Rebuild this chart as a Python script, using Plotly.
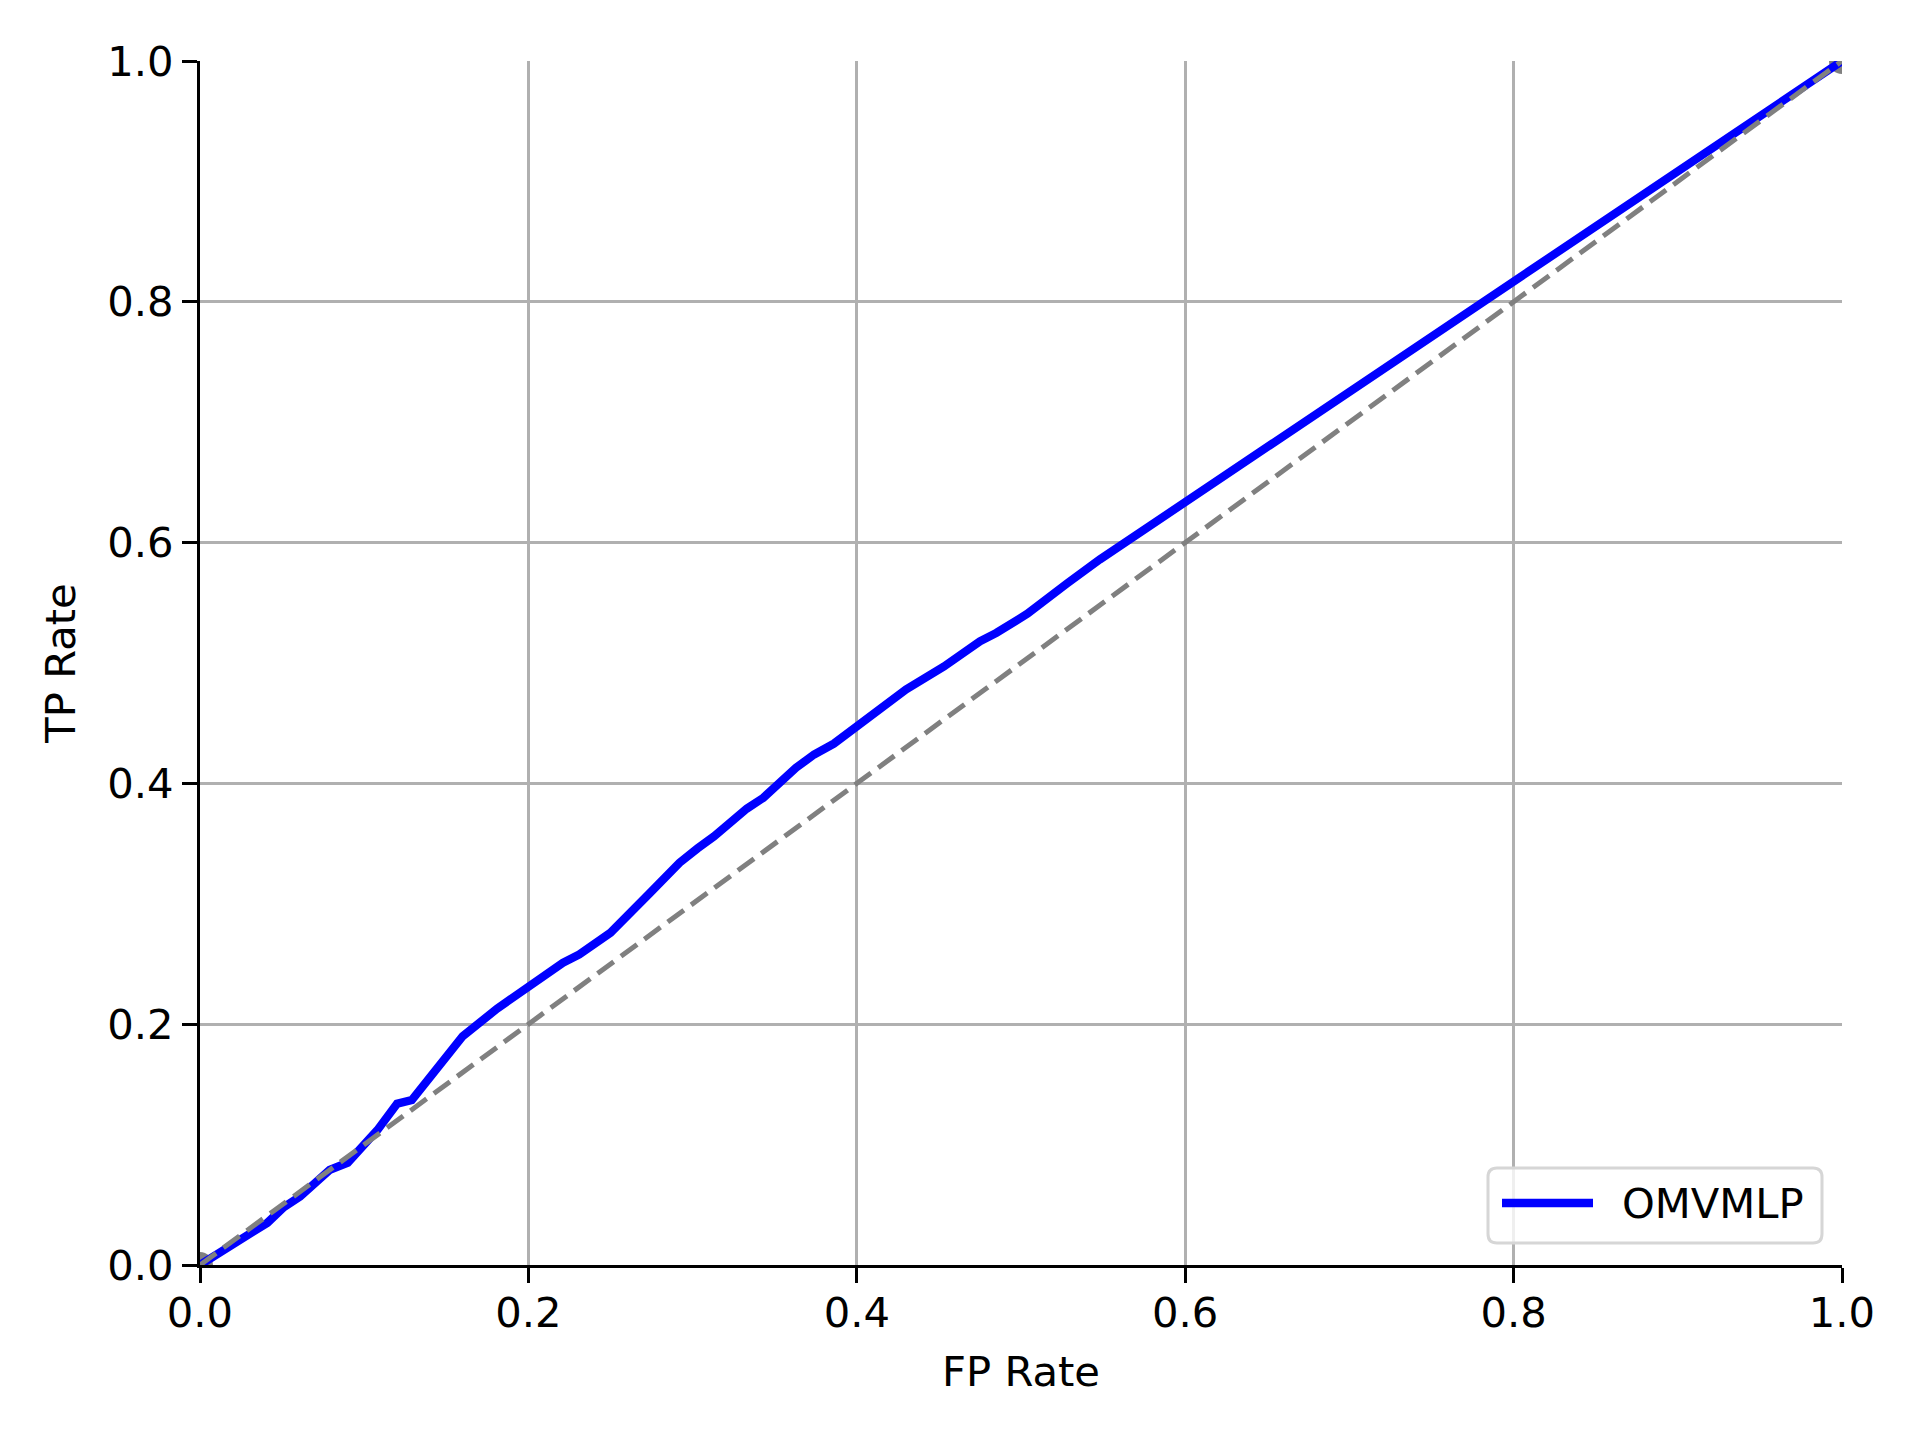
import plotly.graph_objects as go

# ROC curve
fp_rate = [0.0, 0.018, 0.041, 0.051, 0.061, 0.079, 0.090, 0.108, 0.120, 0.129,
           0.140, 0.151, 0.160, 0.181, 0.191, 0.200, 0.221, 0.231, 0.250, 0.274,
           0.292, 0.303, 0.313, 0.333, 0.343, 0.363, 0.374, 0.386, 0.400, 0.412,
           0.430, 0.453, 0.463, 0.475, 0.485, 0.504, 0.528, 0.548, 1.0]
tp_rate = [0.0, 0.015, 0.035, 0.048, 0.057, 0.079, 0.085, 0.112, 0.134, 0.137,
           0.156, 0.176, 0.190, 0.213, 0.223, 0.230, 0.251, 0.258, 0.276, 0.309,
           0.334, 0.346, 0.356, 0.379, 0.388, 0.413, 0.424, 0.433, 0.447, 0.458,
           0.478, 0.497, 0.507, 0.518, 0.525, 0.541, 0.566, 0.586, 1.0]

chance_x = [0.0, 1.0]
chance_y = [0.0, 1.0]

tick_vals = [0.0, 0.2, 0.4, 0.6, 0.8, 1.0]
tick_text = ["0.0", "0.2", "0.4", "0.6", "0.8", "1.0"]

model_name = "OMVMLP"

FONT = dict(family="DejaVu Sans", size=41.7, color="black")

# 页面 body 默认 8px 边距
PAGE_PAD = 8
FIG_W, FIG_H = 1920 - 2 * PAGE_PAD, 1440 - 2 * PAGE_PAD

# plot area in page pixels
PLOT_L, PLOT_R, PLOT_T, PLOT_B = 200, 1842, 61, 1265


def px_x(px):
    return (px - PLOT_L) / (PLOT_R - PLOT_L)


def px_y(py):
    return (PLOT_B - py) / (PLOT_B - PLOT_T)


def rounded_box(x0, y0, x1, y1, r):
    # path in paper units, corners given in pixels
    pts = [
        f"M{px_x(x0 + r)},{px_y(y0)}",
        f"L{px_x(x1 - r)},{px_y(y0)}",
        f"Q{px_x(x1)},{px_y(y0)} {px_x(x1)},{px_y(y0 + r)}",
        f"L{px_x(x1)},{px_y(y1 - r)}",
        f"Q{px_x(x1)},{px_y(y1)} {px_x(x1 - r)},{px_y(y1)}",
        f"L{px_x(x0 + r)},{px_y(y1)}",
        f"Q{px_x(x0)},{px_y(y1)} {px_x(x0)},{px_y(y1 - r)}",
        f"L{px_x(x0)},{px_y(y0 + r)}",
        f"Q{px_x(x0)},{px_y(y0)} {px_x(x0 + r)},{px_y(y0)}",
        "Z",
    ]
    return " ".join(pts)


fig = go.Figure()

# 端点圆点
fig.add_trace(go.Scatter(
    x=chance_x, y=chance_y,
    mode="markers",
    marker=dict(color="#808080", size=26),
    showlegend=False,
    hoverinfo="skip",
))

fig.add_trace(go.Scatter(
    x=fp_rate, y=tp_rate,
    mode="lines",
    name=model_name,
    line=dict(color="#0000ff", width=8.3),
    showlegend=False,
))

# 对角参考线
fig.add_trace(go.Scatter(
    x=chance_x, y=chance_y,
    mode="lines",
    line=dict(color="#808080", width=5, dash="20px,9px"),
    showlegend=False,
    hoverinfo="skip",
))

axis_common = dict(
    range=[0, 1],
    tickvals=tick_vals,
    ticktext=tick_text,
    showline=True,
    linecolor="black",
    linewidth=3,
    ticks="outside",
    ticklen=15,
    tickwidth=3,
    tickcolor="black",
    showgrid=True,
    gridcolor="#b0b0b0",
    gridwidth=3,
    zeroline=False,
    tickfont=FONT,
)

fig.update_xaxes(**axis_common, ticklabelstandoff=-6,
                 title=dict(text="FP Rate", font=FONT, standoff=21))
fig.update_yaxes(**axis_common, title=dict(text="TP Rate", font=FONT, standoff=19))

# 手绘图例
fig.add_shape(
    type="path", xref="paper", yref="paper",
    path=rounded_box(1488, 1168, 1822, 1243, 9),
    fillcolor="rgba(255,255,255,0.8)",
    line=dict(color="#d6d6d6", width=3),
    layer="above",
)
fig.add_shape(
    type="line", xref="paper", yref="paper",
    x0=px_x(1502), x1=px_x(1593), y0=px_y(1203), y1=px_y(1203),
    line=dict(color="#0000ff", width=8.3),
    layer="above",
)
fig.add_annotation(
    xref="paper", yref="paper",
    x=px_x(1620), y=px_y(1203),
    xanchor="left", yanchor="middle",
    text=model_name, showarrow=False,
    font=FONT,
)

fig.update_layout(
    width=FIG_W,
    height=FIG_H,
    margin=dict(
        l=PLOT_L - PAGE_PAD,
        r=FIG_W - (PLOT_R - PAGE_PAD),
        t=PLOT_T - PAGE_PAD,
        b=FIG_H - (PLOT_B - PAGE_PAD),
        autoexpand=False,
    ),
    plot_bgcolor="white",
    paper_bgcolor="white",
    font=FONT,
    showlegend=False,
)

fig.write_html("out.html")
